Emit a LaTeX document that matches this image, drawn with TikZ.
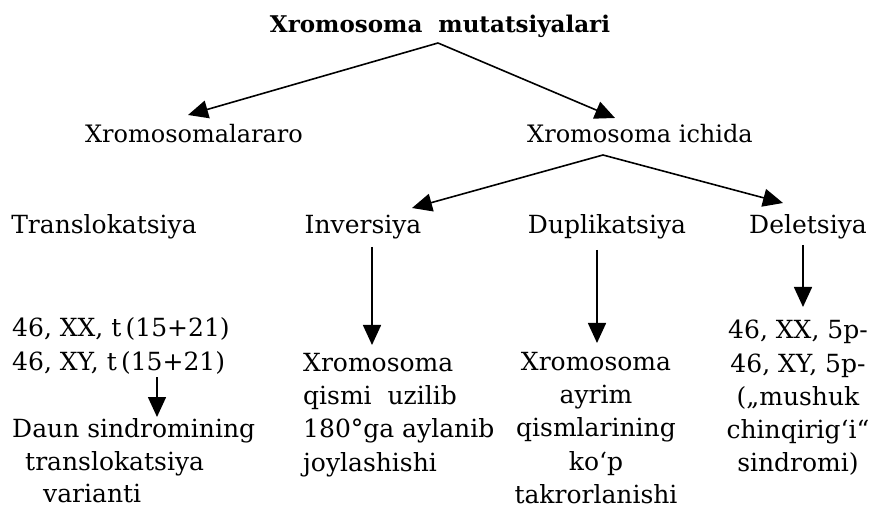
\documentclass[tikz,border=0pt]{standalone}
\usepackage{fontspec}
\setmainfont{DejaVu Serif}
\usetikzlibrary{arrows.meta}
\begin{document}
\begin{tikzpicture}[x=1pt,y=-1pt,
  txt/.style={inner sep=0pt,font=\fontsize{25}{33}\selectfont,text height=18pt,text depth=6pt},
  cond/.style={inner sep=0pt,font=\fontsize{24}{33}\selectfont,text height=18pt,text depth=6pt},
  blk/.style={inner sep=0pt,font=\fontsize{25}{33.3}\selectfont},
  arr/.style={line width=1.6pt,-{Triangle[length=20pt,width=18pt]}}]
\useasboundingbox (0,0) rectangle (872,510);
\node[cond] (title) at (440,27) {\bfseries\fontsize{23}{33}\selectfont Xromosoma\ \ mutatsiyalari};
\node[cond] (inter) at (194,137) {Xromosomalararo};
\node[cond] (intra) at (640,137) {Xromosoma ichida};
\node[txt] (trans) at (104,228) {Translokatsiya};
\node[txt] (inv) at (363,228) {Inversiya};
\node[txt] (dup) at (607,228) {Duplikatsiya};
\node[txt] (del) at (808,228) {Deletsiya};
\node[blk,anchor=west,align=left] (tres) at (12,346) {46, XX, t\,(15+21)\\46, XY, t\,(15+21)};
\node[blk,anchor=west,align=left,font=\fontsize{25}{32.5}\selectfont] (daun) at (12,461) {Daun sindromining\\\hspace*{13pt}translokatsiya\\\hspace*{31pt}varianti};
\node[blk,anchor=west,align=left] (invres) at (303,415) {Xromosoma\\qismi\ \ uzilib\\180°ga aylanib\\joylashishi};
\node[blk,align=center] (dupres) at (596,428) {Xromosoma\\ayrim\\qismlarining\\ko‘p\\takrorlanishi};
\node[blk,align=center] (delres) at (798,398) {46, XX, 5p-\\46, XY, 5p-\\(„mushuk\\chinqirig‘i“\\sindromi)};
\draw[arr] ([xshift=-2pt,yshift=-16pt]title.center) -- ([xshift=-6pt,yshift=22pt]inter.center);
\draw[arr] ([xshift=-2pt,yshift=-16pt]title.center) -- ([xshift=-25pt,yshift=19pt]intra.center);
\draw[arr] ([xshift=-37pt,yshift=-18pt]intra.center) -- ([xshift=49pt,yshift=20pt]inv.center);
\draw[arr] ([xshift=-37pt,yshift=-18pt]intra.center) -- ([xshift=-25pt,yshift=25pt]del.center);
\draw[arr] ([xshift=9pt,yshift=-19pt]inv.center) -- ([xshift=69pt,yshift=70pt]invres.west);
\draw[arr] ([xshift=-10pt,yshift=-22pt]dup.center) -- ([xshift=1pt,yshift=85pt]dupres.center);
\draw[arr] ([xshift=-5pt,yshift=-17pt]del.center) -- ([xshift=5pt,yshift=91pt]delres.center);
\draw[arr] ([xshift=145pt,yshift=-31pt]tres.west) -- ([xshift=145pt,yshift=44pt]daun.west);
\end{tikzpicture}
\end{document}
